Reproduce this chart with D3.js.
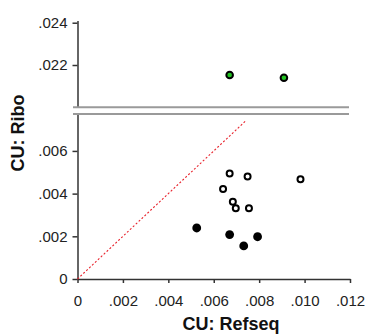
<!DOCTYPE html>
<html>
<head>
<meta charset="utf-8">
<script src="https://cdn.jsdelivr.net/npm/d3@7"></script>
<style>
  html, body { margin: 0; padding: 0; background: #fff; }
  svg { display: block; font-family: "Liberation Sans", Arial, sans-serif; }
</style>
</head>
<body>
<svg id="chart" width="365" height="334"></svg>
<script>
// Codon usage: Refseq (x) vs Ribo (y)
const greenX = [0.0067, 0.00909];
const greenY = [0.02153, 0.0214];

const openX = [0.0067, 0.00749, 0.00982, 0.00641, 0.00684, 0.00697, 0.00755];
const openY = [0.00494, 0.0048, 0.00467, 0.00422, 0.00362, 0.00331, 0.00331];

const filledX = [0.00525, 0.0067, 0.00793, 0.00732];
const filledY = [0.00239, 0.00208, 0.00198, 0.00155];

const xTicks = [0, 0.002, 0.004, 0.006, 0.008, 0.010, 0.012];
const xTickLabels = ["0", ".002", ".004", ".006", ".008", ".010", ".012"];
const yLowTicks = [0, 0.002, 0.004, 0.006];
const yLowTickLabels = ["0", ".002", ".004", ".006"];
const yHighTicks = [0.022, 0.024];
const yHighTickLabels = [".022", ".024"];

const identityLine = [0, 0.0074];

const svg = d3.select("#chart");

const x = d3.scaleLinear().domain([0, 0.012]).range([77.5, 350]);
// broken y axis: lower and upper segments share the same unit size
const yLow = d3.scaleLinear().domain([0, 0.00773]).range([279, 114]);
const yHigh = d3.scaleLinear().domain([0.020, 0.0241]).range([107.3, 20.6]);

const axisColor = "#333";
const textColor = "#222";
const tickFont = 15;

// x axis
const xAxis = svg.append("g")
  .attr("transform", `translate(0,${yLow(0)})`)
  .call(d3.axisBottom(x).tickValues(xTicks)
    .tickFormat((d, i) => xTickLabels[i]).tickSize(4).tickSizeOuter(0).tickPadding(12));
xAxis.select(".domain").attr("stroke", axisColor).attr("stroke-width", 1.5);
xAxis.selectAll(".tick line").attr("stroke", axisColor).attr("stroke-width", 1.5);
xAxis.selectAll("text").attr("fill", textColor).attr("font-size", tickFont);

// lower y axis
const yLowAxis = svg.append("g")
  .attr("transform", `translate(${x(0)},0)`)
  .call(d3.axisLeft(yLow).tickValues(yLowTicks)
    .tickFormat((d, i) => yLowTickLabels[i]).tickSize(5).tickSizeOuter(0).tickPadding(5));
yLowAxis.select(".domain").attr("stroke", axisColor).attr("stroke-width", 1.5);
yLowAxis.selectAll(".tick line").attr("stroke", axisColor).attr("stroke-width", 1.5);
yLowAxis.selectAll("text").attr("fill", textColor).attr("font-size", tickFont);

// upper y axis
const yHighAxis = svg.append("g")
  .attr("transform", `translate(${x(0)},0)`)
  .call(d3.axisLeft(yHigh).tickValues(yHighTicks)
    .tickFormat((d, i) => yHighTickLabels[i]).tickSize(5).tickSizeOuter(0).tickPadding(5));
yHighAxis.select(".domain").attr("stroke", axisColor).attr("stroke-width", 1.5);
yHighAxis.selectAll(".tick line").attr("stroke", axisColor).attr("stroke-width", 1.5);
yHighAxis.selectAll("text").attr("fill", textColor).attr("font-size", tickFont);

// axis break markers
[yHigh(0.020), yLow(0.00773)].forEach(yy => {
  svg.append("line")
    .attr("x1", 73).attr("x2", 349)
    .attr("y1", yy).attr("y2", yy)
    .attr("stroke", "#9a9a9a").attr("stroke-width", 2);
});

// y = x reference line
svg.append("line")
  .attr("x1", x(identityLine[0])).attr("y1", yLow(identityLine[0]))
  .attr("x2", x(identityLine[1])).attr("y2", yLow(identityLine[1]))
  .attr("stroke", "#e8202a").attr("stroke-width", 1.1)
  .attr("stroke-dasharray", "2,2");

// points
svg.append("g").selectAll("circle")
  .data(openX.map((v, i) => [v, openY[i]]))
  .join("circle")
  .attr("cx", d => x(d[0])).attr("cy", d => yLow(d[1]))
  .attr("r", 3).attr("fill", "#fff")
  .attr("stroke", "#000").attr("stroke-width", 2);

svg.append("g").selectAll("circle")
  .data(filledX.map((v, i) => [v, filledY[i]]))
  .join("circle")
  .attr("cx", d => x(d[0])).attr("cy", d => yLow(d[1]))
  .attr("r", 4.4).attr("fill", "#000");

svg.append("g").selectAll("circle")
  .data(greenX.map((v, i) => [v, greenY[i]]))
  .join("circle")
  .attr("cx", d => x(d[0])).attr("cy", d => yHigh(d[1]))
  .attr("r", 3.3).attr("fill", "#22c322")
  .attr("stroke", "#000").attr("stroke-width", 2);

// axis titles
svg.append("text")
  .attr("x", 231).attr("y", 330)
  .attr("text-anchor", "middle")
  .attr("font-size", 18).attr("font-weight", "bold").attr("fill", "#111")
  .text("CU: Refseq");

svg.append("text")
  .attr("transform", "translate(24,133) rotate(-90)")
  .attr("text-anchor", "middle")
  .attr("font-size", 18).attr("font-weight", "bold").attr("fill", "#111")
  .text("CU: Ribo");
</script>
</body>
</html>
